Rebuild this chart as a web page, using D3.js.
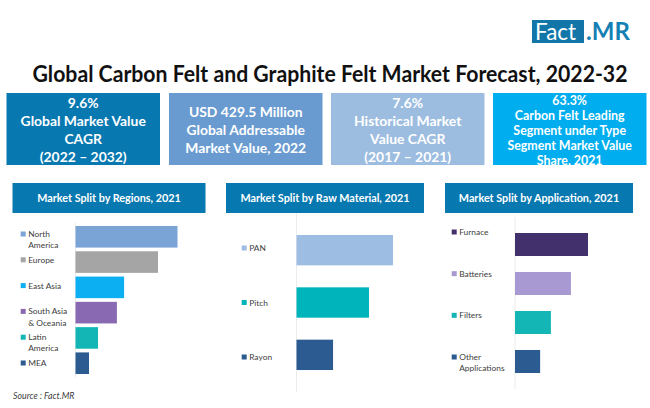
<!DOCTYPE html>
<html>
<head>
<meta charset="utf-8">
<script src="https://cdn.jsdelivr.net/npm/d3@7/dist/d3.min.js"></script>
<style>
html,body{margin:0;padding:0;background:#fff;}
svg{display:block;}
text{font-family:Lato,"Open Sans",sans-serif;}
</style>
</head>
<body>
<svg id="c" width="650" height="408"></svg>
<script>
// ---- data ----
const chartTitle = "Global Carbon Felt and Graphite Felt Market Forecast, 2022-32";
const sourceNote = "Source : Fact.MR";
const kpiText = [
  ["9.6%", "Global Market Value", "CAGR", "(2022 – 2032)"],
  ["USD 429.5 Million", "Global Addressable", "Market Value, 2022"],
  ["7.6%", "Historical Market", "Value CAGR", "(2017 – 2021)"],
  ["63.3%", "Carbon Felt Leading", "Segment under Type", "Segment Market Value", "Share, 2021"]
];
const regionTitle = "Market Split by Regions, 2021";
const regionLabels = [["North","America"],["Europe"],["East Asia"],["South Asia","& Oceania"],["Latin","America"],["MEA"]];
const regionValues = [34, 27.5, 16.2, 13.8, 7.5, 4.5];
const materialTitle = "Market Split by Raw Material, 2021";
const materialLabels = [["PAN"],["Pitch"],["Rayon"]];
const materialValues = [32.2, 24.2, 12.2];
const applicationTitle = "Market Split by Application, 2021";
const applicationLabels = [["Furnace"],["Batteries"],["Filters"],["Other","Applications"]];
const applicationValues = [24.4, 18.7, 12, 8.4];

// ---- styles and layout ----
const regionColors = ["#7ba4d6","#a5a5a5","#0cb0f2","#8869b2","#14b5b5","#2b5b90"];
const materialColors = ["#9dbde2","#00b4bc","#2b5b90"];
const applicationColors = ["#41306b","#a999d2","#14b5b5","#2b5b90"];
const kpiColors = ["#0878b0","#6a9bd0","#9dbde0","#00aeef"];
const kpiX = [6.5,169,331,493];
const kpiFont = [13.9,13.9,13.9,12.4];
const kpiLine = [18,18,18,14.9];
const kpiBase = [107.5,116.5,107.5,105];

const svg = d3.select("#c");

// logo
svg.append("rect").attr("x",532).attr("y",20).attr("width",52).attr("height",23).attr("fill","#1276a8");
svg.append("text").attr("x",535).attr("y",40).attr("font-size",22.5).attr("fill","#fff").text("Fact");
svg.append("text").attr("x",586).attr("y",40).attr("font-size",24).attr("font-weight",700).attr("fill","#1580b4").text(".MR");

// title
svg.append("text").attr("x",330).attr("y",82).attr("text-anchor","middle")
  .attr("font-size",22).attr("font-weight",700).attr("fill","#111")
  .attr("textLength",595).attr("lengthAdjust","spacingAndGlyphs").text(chartTitle);

// KPI boxes
kpiText.forEach((lines,i)=>{
  svg.append("rect").attr("x",kpiX[i]).attr("y",93).attr("width",153.5).attr("height",72).attr("fill",kpiColors[i]);
  const t = svg.append("text").attr("text-anchor","middle").attr("fill","#fff")
    .attr("font-size",kpiFont[i]).attr("font-weight",700);
  lines.forEach((s,k)=>t.append("tspan").attr("x",kpiX[i]+76.7).attr("y",kpiBase[i]+k*kpiLine[i]).text(s));
});

function panel(o){
  svg.append("rect").attr("x",o.hx).attr("y",183).attr("width",o.hw).attr("height",30).attr("fill","#0878b0");
  svg.append("text").attr("x",o.hx+o.hw/2).attr("y",202).attr("text-anchor","middle")
    .attr("fill","#fff").attr("font-size",10.8).attr("font-weight",700).text(o.title);
  const idx = o.values.map((d,i)=>i);
  const y = d3.scaleBand().domain(idx).range(o.yr).padding(o.pad);
  const x = d3.scaleLinear().domain([0,o.dmax]).range([o.x0,o.x1]);
  const ly = d3.scalePoint().domain(idx).range(o.lr);
  svg.append("line").attr("x1",o.x0).attr("x2",o.x0).attr("y1",o.yr[0]).attr("y2",o.yr[1])
    .attr("stroke","#ececec").attr("stroke-width",1);
  svg.selectAll(null).data(o.values).enter().append("rect")
    .attr("x",x(0)).attr("y",(d,i)=>y(i)).attr("width",d=>x(d)-x(0)).attr("height",y.bandwidth())
    .attr("fill",(d,i)=>o.colors[i]);
  svg.selectAll(null).data(o.labels).enter().append("rect")
    .attr("x",o.mx).attr("y",(d,i)=>ly(i)-2.5).attr("width",5).attr("height",5).attr("fill",(d,i)=>o.colors[i]);
  const t = svg.selectAll(null).data(o.labels).enter().append("text")
    .attr("fill","#404040").attr("font-size",8.4);
  t.each(function(lines,i){
    const n = d3.select(this);
    lines.forEach((s,k)=>n.append("tspan").attr("x",o.mx+7.5).attr("y",ly(i)+3+k*11.2).text(s));
  });
}

panel({title:regionTitle,labels:regionLabels,values:regionValues,colors:regionColors,
  hx:12.5,hw:193,yr:[222.3,377.7],pad:0.146,x0:75.5,x1:177.5,dmax:34,lr:[234,363],mx:20.7});
panel({title:materialTitle,labels:materialLabels,values:materialValues,colors:materialColors,
  hx:226,hw:198,yr:[213,392],pad:0.42,x0:296.5,x1:393,dmax:32.2,lr:[248,357],mx:241.7});
panel({title:applicationTitle,labels:applicationLabels,values:applicationValues,colors:applicationColors,
  hx:445,hw:188,yr:[217,389],pad:0.41,x0:515,x1:588,dmax:24.4,lr:[232,357],mx:451.7});

svg.append("text").attr("x",13).attr("y",399).attr("font-size",8.8).attr("font-style","italic")
  .attr("fill","#404040").text(sourceNote);
</script>
</body>
</html>
